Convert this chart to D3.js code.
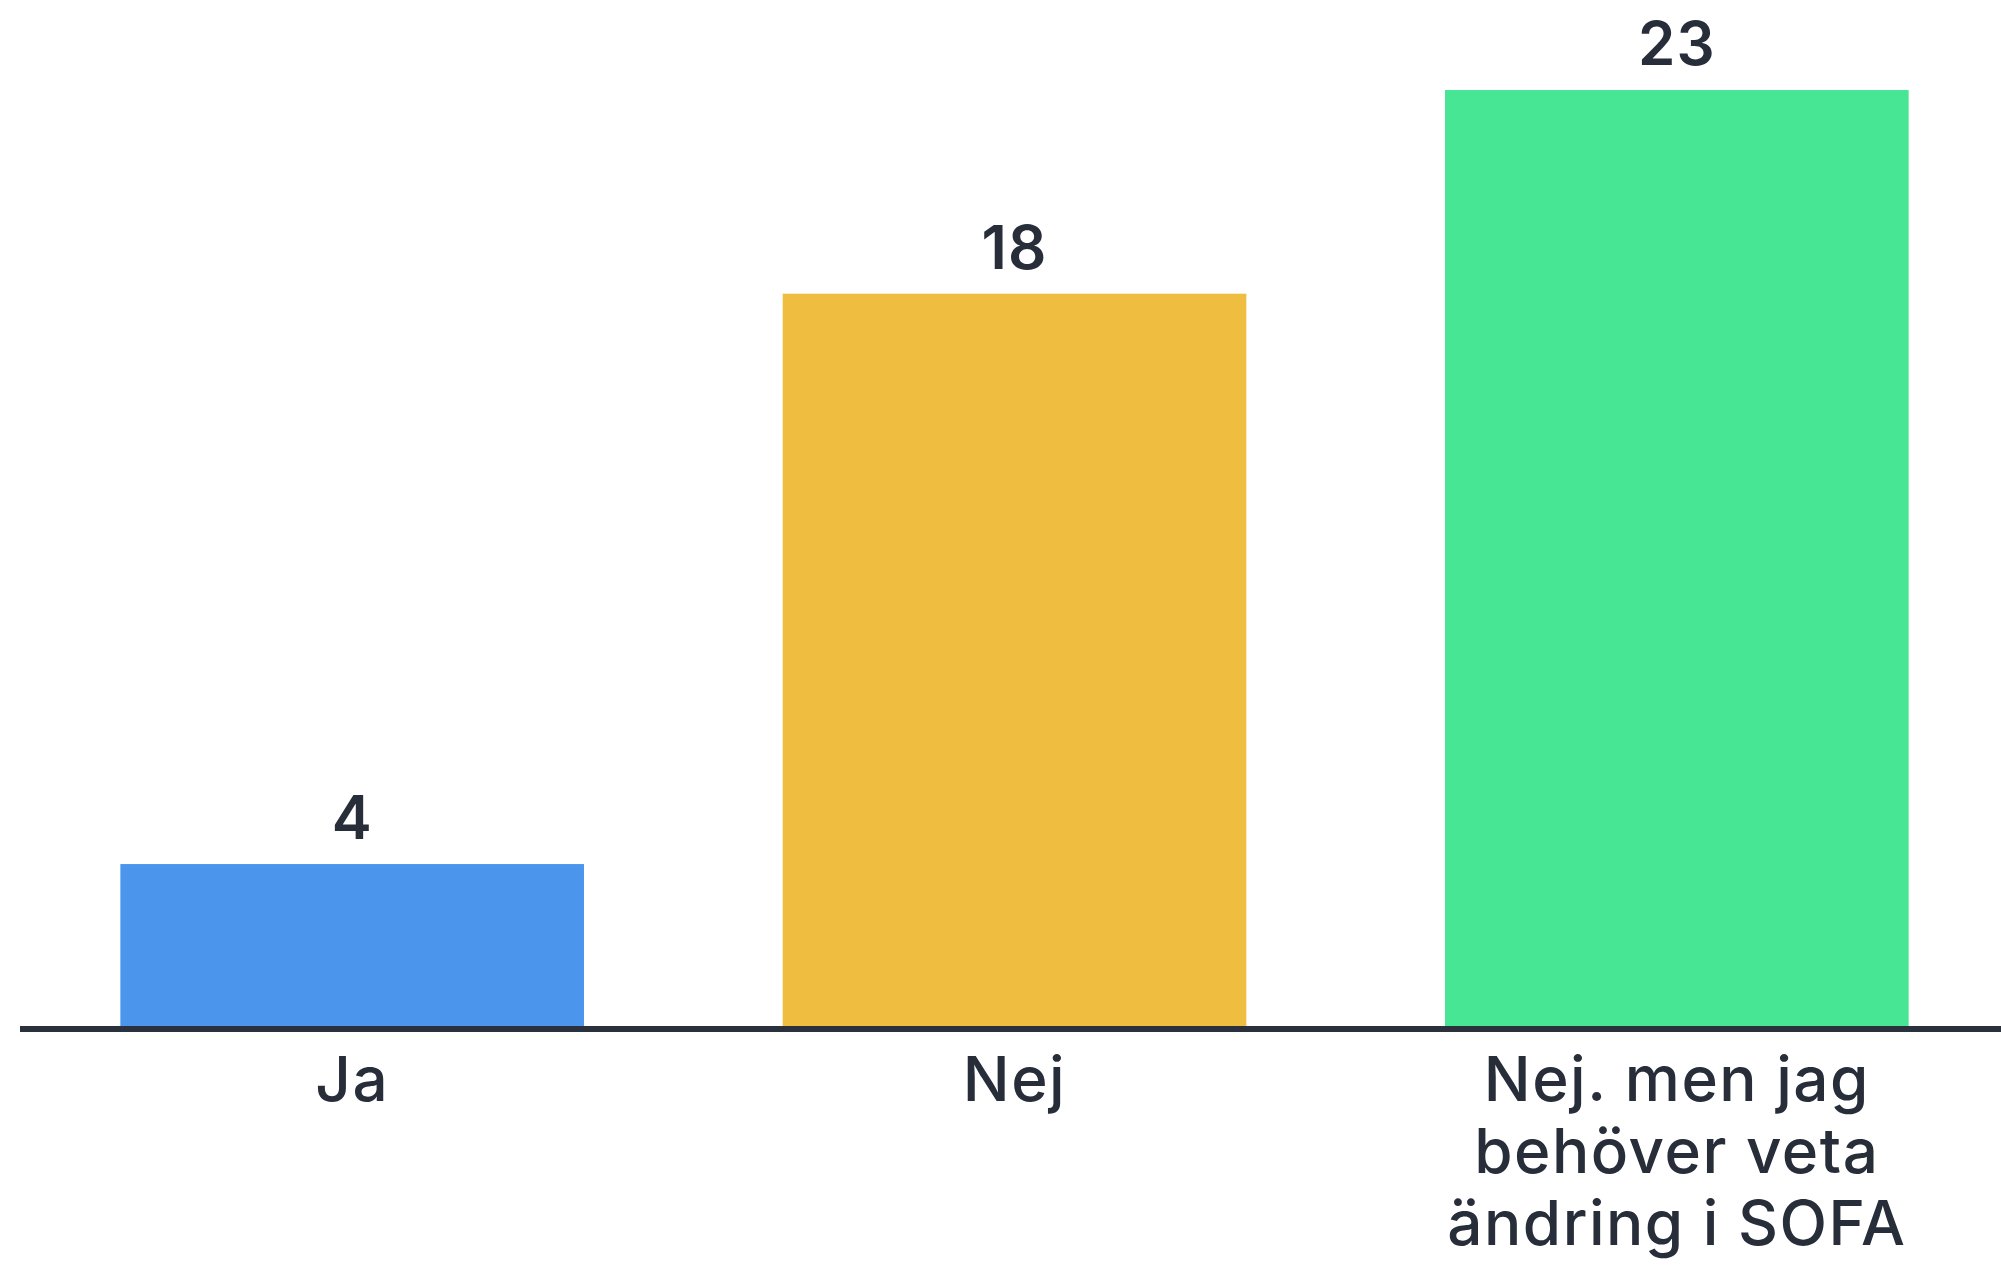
<!DOCTYPE html>
<html>
<head>
<meta charset="utf-8">
<script src="https://cdn.jsdelivr.net/npm/d3@7"></script>
<style>
  html, body { margin: 0; padding: 0; background: #ffffff; }
  svg { display: block; }
  text { font-family: "Inter", "Lato", sans-serif; fill: #272d39; }
</style>
</head>
<body>
<svg id="chart" width="2001" height="1265"></svg>
<script>
// Survey answers and counts
const categories = ["Ja", "Nej", "Nej. men jag behöver veta ändring i SOFA"];
const labelLines = [["Ja"], ["Nej"], ["Nej. men jag", "behöver veta", "ändring i SOFA"]];
const values = [4, 18, 23];
const barColors = ["#4b96ec", "#efbd40", "#47e694"];

const W = 2001, H = 1265;
const svg = d3.select("#chart");

const x = d3.scaleBand()
  .domain(categories)
  .range([21, 2008])
  .paddingInner(0.3)
  .paddingOuter(0.15);

const y = d3.scaleLinear()
  .domain([0, 23])
  .range([1027, 90]);

// Bars
svg.append("g")
  .selectAll("rect")
  .data(values)
  .join("rect")
  .attr("x", (d, i) => x(categories[i]))
  .attr("y", d => y(d))
  .attr("width", x.bandwidth())
  .attr("height", d => y(0) - y(d))
  .attr("fill", (d, i) => barColors[i]);

// Baseline
svg.append("line")
  .attr("x1", 20).attr("x2", W)
  .attr("y1", y(0) + 2).attr("y2", y(0) + 2)
  .attr("stroke", "#2b313c")
  .attr("stroke-width", 6);

// Value labels above bars
svg.append("g")
  .selectAll("text")
  .data(values)
  .join("text")
  .attr("x", (d, i) => x(categories[i]) + x.bandwidth() / 2)
  .attr("y", d => y(d) - 25)
  .attr("text-anchor", "middle")
  .attr("font-size", 60)
  .attr("font-weight", 600)
  .attr("letter-spacing", 1)
  .text(d => d);

// Category labels under the axis
const cat = svg.append("g")
  .selectAll("text")
  .data(labelLines)
  .join("text")
  .attr("x", (d, i) => x(categories[i]) + x.bandwidth() / 2)
  .attr("y", 1101)
  .attr("text-anchor", "middle")
  .attr("font-size", 62)
  .attr("font-weight", 500)
  .attr("letter-spacing", 1.5);

cat.selectAll("tspan")
  .data(d => d)
  .join("tspan")
  .attr("x", function () { return d3.select(this.parentNode).attr("x"); })
  .attr("dy", (d, j) => j === 0 ? 0 : 72)
  .text(d => d);
</script>
</body>
</html>
